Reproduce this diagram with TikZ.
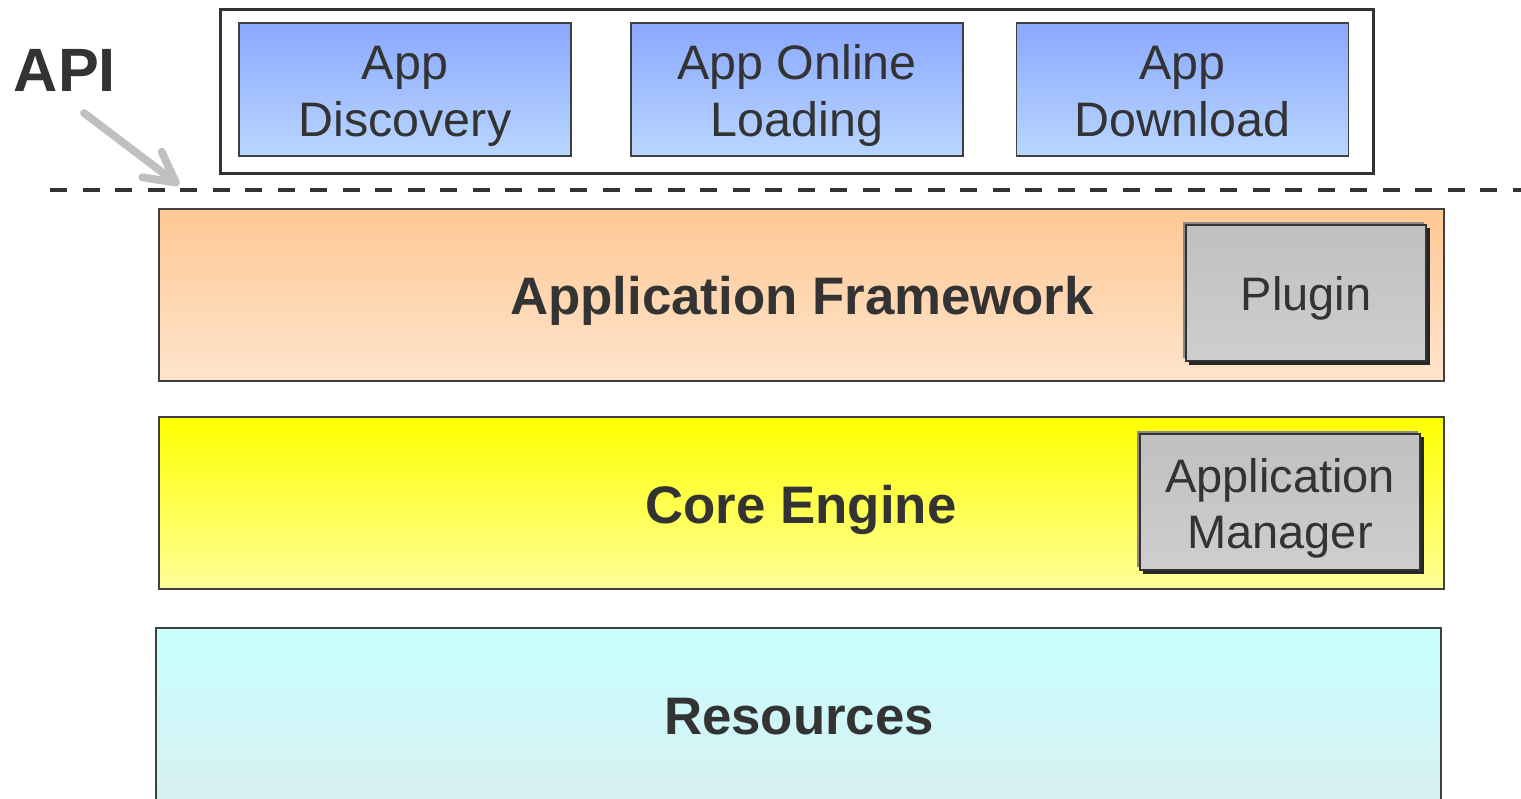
\documentclass[tikz,border=0pt]{standalone}
\usepackage{fontspec}
\setmainfont{Liberation Sans}
\usetikzlibrary{arrows.meta}
\definecolor{txt}{HTML}{333333}
\definecolor{edge}{HTML}{404040}
\definecolor{bluetop}{HTML}{8AA8FF}
\definecolor{bluebot}{HTML}{B9D6FF}
\definecolor{orgtop}{HTML}{FFC894}
\definecolor{orgbot}{HTML}{FFE4CC}
\definecolor{yeltop}{HTML}{FFFF00}
\definecolor{yelbot}{HTML}{FFFF99}
\definecolor{cyatop}{HTML}{C8FFFF}
\definecolor{cyabot}{HTML}{DAEEF0}
\definecolor{grytop}{HTML}{C0C0C0}
\definecolor{grybot}{HTML}{CECECE}
\definecolor{arrowgray}{HTML}{C0C0C0}
\definecolor{bevel}{HTML}{8A8A8A}
\tikzset{
  appbox/.style={draw=edge, line width=0.75pt, top color=bluetop, bottom color=bluebot,
    minimum width=166pt, minimum height=66.5pt, inner sep=0pt, outer sep=0pt},
  apptext/.style={text=txt, font=\fontsize{24.2}{28.5}\selectfont, align=center, inner sep=0pt},
  layer/.style={draw=edge, line width=1pt, minimum width=642.5pt, minimum height=86pt,
    inner sep=0pt, outer sep=0pt},
  layertext/.style={text=txt, font=\fontsize{26.4}{30}\selectfont\bfseries, inner sep=0pt},
  graybox/.style={draw=txt, line width=1pt, top color=grytop, bottom color=grybot,
    inner sep=0pt, outer sep=0pt},
  graytext/.style={text=txt, font=\fontsize{23.5}{28}\selectfont, align=center, inner sep=0pt},
}
\begin{document}
\begin{tikzpicture}[x=0.5pt,y=-0.5pt]
\path[use as bounding box] (0,0) rectangle (1521,798);
% outer container
\node[draw=txt, line width=1.5pt, fill=white, minimum width=576.5pt, minimum height=82pt,
  inner sep=0pt, outer sep=0pt] (top) at (796.5,91) {};
\node[appbox] (disc) at (405,89.5) {};
\node[apptext] (disct) at (405,97) {App\strut\\Discovery\strut};
\node[appbox] (load) at (797,89.5) {};
\node[apptext] (loadt) at (797,97) {App Online\strut\\Loading\strut};
\node[appbox] (down) at (1182.5,89.5) {};
\node[apptext] (downt) at (1182.5,97) {App\strut\\Download\strut};
% API label and arrow
\node[text=txt, font=\fontsize{30.6}{34}\selectfont\bfseries, inner sep=0pt] (api) at (65,70) {API};
\coordinate (arrs) at (84,113);
\coordinate (arre) at (179,185);
\draw[arrowgray, line width=3.9pt, line cap=round,
  -{Straight Barb[length=15pt,width=16pt,line width=3.9pt,round]}] (arrs) -- (arre);
% dashed API line
\coordinate (dl) at (50,190);
\coordinate (dr) at (1521,190);
\draw[txt, line width=2pt, dash pattern=on 8.5pt off 7.75pt] (dl) -- (dr);
% Application Framework
\node[layer, top color=orgtop, bottom color=orgbot] (fw) at (801.5,295) {};
\node[layertext] (fwt) at (802,301) {Application Framework};
\fill[bevel] (1183,222) rectangle (1424,358);
\fill[black!85] (1189,228) rectangle (1430,365);
\node[graybox, minimum width=120pt, minimum height=68pt] (plug) at (1306,293) {};
\node[graytext] (plugt) at (1306,299) {Plugin\strut};
% Core Engine
\node[layer, top color=yeltop, bottom color=yelbot] (ce) at (801.5,503) {};
\node[layertext] (cet) at (801,510) {Core Engine};
\fill[bevel] (1137,431) rectangle (1418,567);
\fill[black!85] (1143,437) rectangle (1424,574);
\node[graybox, minimum width=140pt, minimum height=68pt] (am) at (1280,502) {};
\node[graytext] (amt) at (1280,509) {Application\strut\\Manager\strut};
% Resources
\begin{scope}
\clip (0,0) rectangle (1521,798);
\node[layer, top color=cyatop, bottom color=cyabot, minimum height=96pt] (res) at (798.5,724) {};
\end{scope}
\node[layertext] (rest) at (799,717) {Resources};
\end{tikzpicture}
\end{document}
